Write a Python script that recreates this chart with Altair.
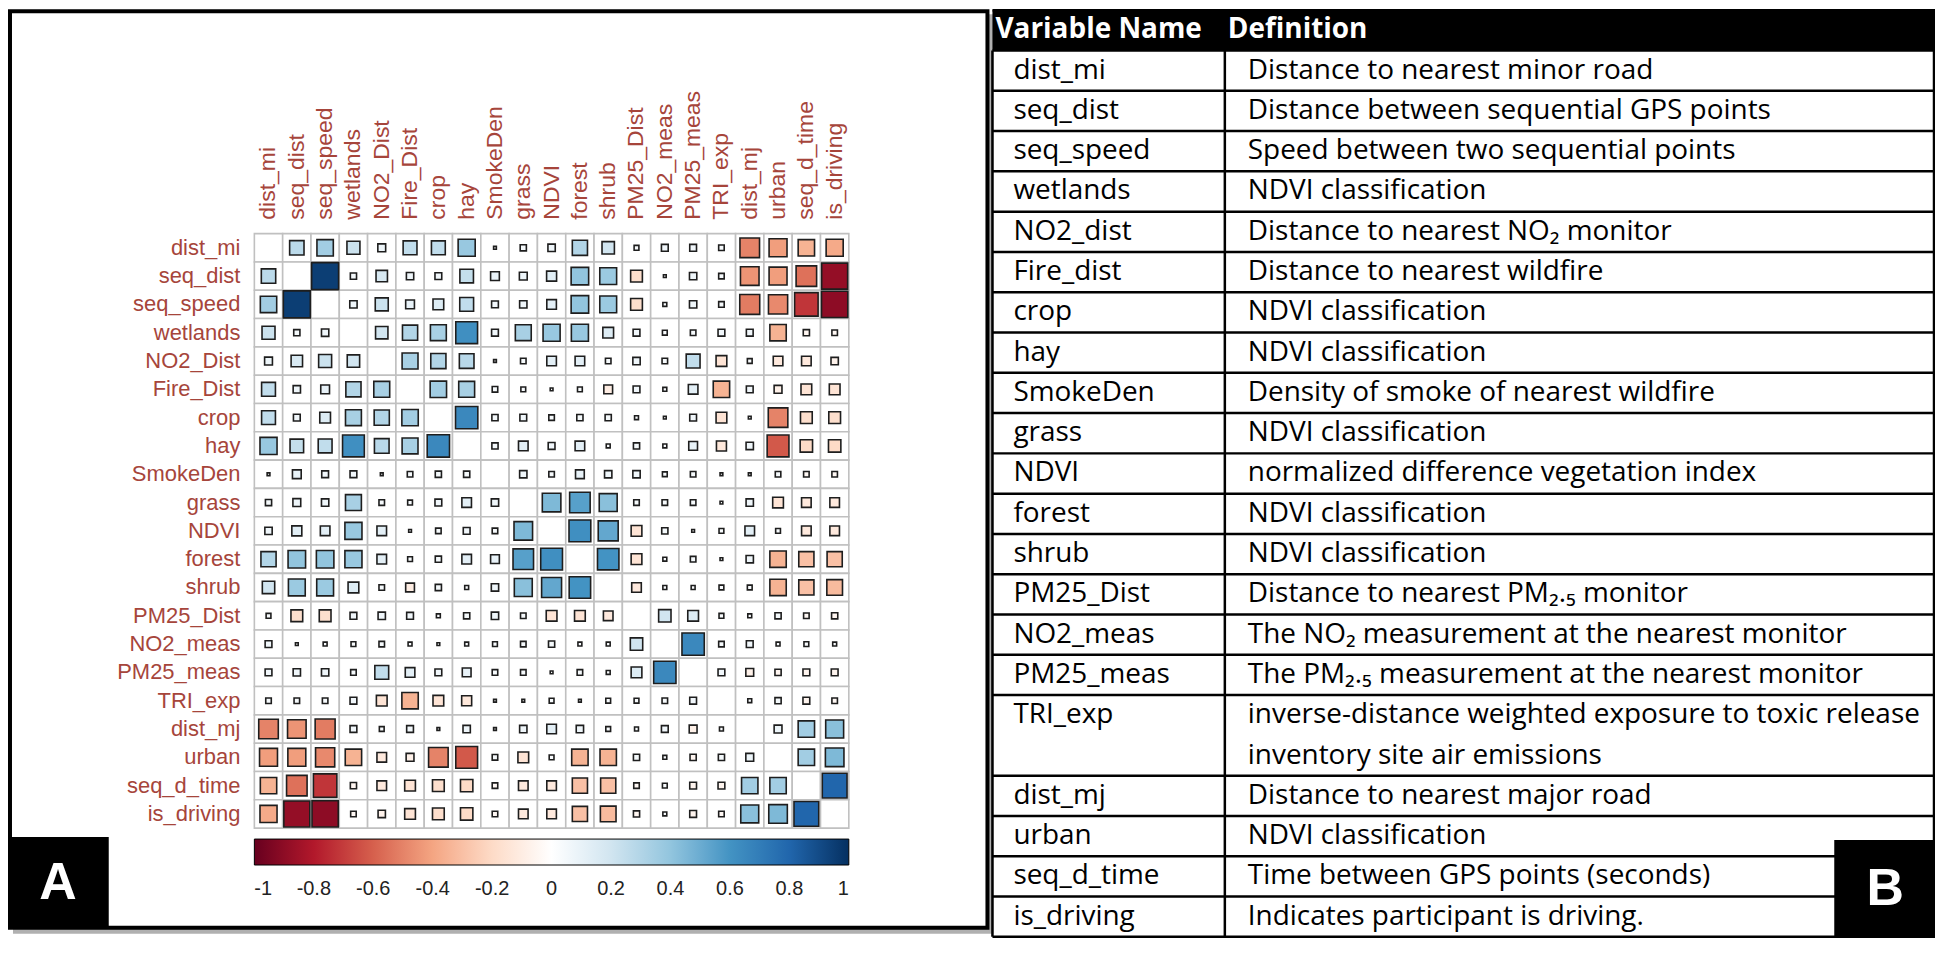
import altair as alt
import numpy as np
import pandas as pd

# ---------------- data ----------------
variables = ["dist_mi", "seq_dist", "seq_speed", "wetlands", "NO2_Dist", "Fire_Dist",
             "crop", "hay", "SmokeDen", "grass", "NDVI", "forest", "shrub", "PM25_Dist",
             "NO2_meas", "PM25_meas", "TRI_exp", "dist_mj", "urban", "seq_d_time", "is_driving"]

# lower triangle of the correlation matrix (row i, columns 0..i-1)
lower_triangle = [
    [],
    [0.27],
    [0.35, 0.95],
    [0.22, 0.05, 0.07],
    [0.08, 0.17, 0.22, 0.20],
    [0.25, 0.07, 0.10, 0.30, 0.33],
    [0.25, 0.06, 0.15, 0.33, 0.30, 0.35],
    [0.38, 0.24, 0.25, 0.62, 0.28, 0.33, 0.65],
    [0.01, 0.10, 0.06, 0.06, 0.01, 0.04, 0.05, 0.05],
    [0.05, 0.08, 0.07, 0.33, 0.04, 0.03, 0.06, 0.12, 0.07],
    [0.07, 0.13, 0.12, 0.38, 0.12, 0.01, 0.04, 0.06, 0.04, 0.45],
    [0.30, 0.40, 0.40, 0.38, 0.12, 0.03, 0.05, 0.12, 0.10, 0.55, 0.62],
    [0.20, 0.37, 0.37, 0.15, 0.04, -0.10, 0.05, 0.02, 0.07, 0.42, 0.52, 0.60],
    [0.03, -0.18, -0.18, 0.06, 0.07, 0.06, 0.02, 0.05, 0.07, 0.04, -0.15, -0.15, -0.12],
    [0.06, 0.01, 0.02, 0.03, 0.04, 0.02, 0.01, 0.02, 0.03, 0.04, 0.05, 0.02, 0.02, 0.20],
    [0.06, 0.07, 0.07, 0.04, 0.25, 0.12, 0.06, 0.10, 0.04, 0.04, 0.01, 0.04, 0.02, 0.15, 0.65],
    [0.04, 0.04, 0.04, 0.06, -0.15, -0.35, -0.15, -0.13, 0.01, 0.01, 0.03, 0.01, 0.03, 0.03, 0.04, 0.06],
    [-0.50, -0.45, -0.52, 0.06, 0.03, 0.06, 0.01, 0.07, 0.01, 0.07, 0.12, 0.07, 0.03, 0.02, 0.06, -0.08, 0.02],
    [-0.42, -0.42, -0.48, -0.35, -0.12, -0.08, -0.50, -0.62, 0.04, -0.15, 0.03, -0.35, -0.35, 0.05, 0.02, -0.05, 0.05, 0.08],
    [-0.35, -0.55, -0.72, -0.05, -0.12, -0.15, -0.18, -0.20, -0.04, -0.12, -0.12, -0.30, -0.30, -0.04, 0.03, -0.06, -0.06, 0.35, 0.35],
    [-0.38, -0.88, -0.90, -0.04, -0.07, -0.15, -0.18, -0.20, -0.04, -0.12, -0.12, -0.30, -0.32, -0.05, 0.02, -0.06, -0.04, 0.42, 0.45, 0.80],
]

palette_stops = [-1, -0.8, -0.6, -0.4, -0.2, 0, 0.2, 0.4, 0.6, 0.8, 1]
corr_palette = ["#67001F", "#B2182B", "#D6604D", "#F4A582", "#FDDBC7", "#FFFFFF",
                "#D1E5F0", "#92C5DE", "#4393C3", "#2166AC", "#053061"]
colorbar_ticks = [-1, -0.8, -0.6, -0.4, -0.2, 0, 0.2, 0.4, 0.6, 0.8, 1]

table_header = ["Variable Name", "Definition"]
table_names = ["dist_mi", "seq_dist", "seq_speed", "wetlands", "NO2_dist", "Fire_dist", "crop",
               "hay", "SmokeDen", "grass", "NDVI", "forest", "shrub", "PM25_Dist", "NO2_meas",
               "PM25_meas", "TRI_exp", "dist_mj", "urban", "seq_d_time", "is_driving"]
table_definitions = [
    ["Distance to nearest minor road"],
    ["Distance between sequential GPS points"],
    ["Speed between two sequential points"],
    ["NDVI classification"],
    ["Distance to nearest NO\u2082 monitor"],
    ["Distance to nearest wildfire"],
    ["NDVI classification"],
    ["NDVI classification"],
    ["Density of smoke of nearest wildfire"],
    ["NDVI classification"],
    ["normalized difference vegetation index"],
    ["NDVI classification"],
    ["NDVI classification"],
    ["Distance to nearest PM\u2082.\u2085 monitor"],
    ["The NO\u2082 measurement at the nearest monitor"],
    ["The PM\u2082.\u2085 measurement at the nearest monitor"],
    ["inverse-distance weighted exposure to toxic release", "inventory site air emissions"],
    ["Distance to nearest major road"],
    ["NDVI classification"],
    ["Time between GPS points (seconds)"],
    ["Indicates participant is driving."],
]
panel_letters = ["A", "B"]

# ---------------- layout (reference pixel coordinates) ----------------
W, H = 1932, 944
OX, OY = 8, 8
MAT_X0, MAT_X1 = 255, 851
MAT_Y0, MAT_Y1 = 233, 829
TAB_X0, TAB_XD, TAB_X1 = 995, 1228, 1940
TAB_Y0, TAB_Y1 = 9, 938
LABEL_COL = "#A6453B"
LABEL_SIZE = 22
TABLE_FONT_SIZE = 28

n = len(variables)
M = np.eye(n)
for i, row in enumerate(lower_triangle):
    for j, v in enumerate(row):
        M[i, j] = v
        M[j, i] = v

cells = pd.DataFrame([
    {"row": variables[i], "col": variables[j], "r": float(M[i, j]),
     "absr": float(abs(M[i, j])), "diag": i == j}
    for i in range(n) for j in range(n)
])
squares = cells[~cells["diag"]].copy()

xs = alt.Scale(domain=variables, range=[MAT_X0 - OX, MAT_X1 - OX], paddingInner=0, paddingOuter=0)
ys = alt.Scale(domain=variables, range=[MAT_Y0 - OY, MAT_Y1 - OY], paddingInner=0, paddingOuter=0)
xpx = alt.Scale(domain=[OX, OX + W], range=[0, W])
ypx = alt.Scale(domain=[OY, OY + H], range=[0, H])

# decoration rectangles (panel frame with shadow, "A" box)
deco = pd.DataFrame([
    dict(x=13, x2=996, y=13, y2=935, fill="#b0b0b0", stroke="#b0b0b0", sw=0),
    dict(x=10, x2=990, y=10, y2=929, fill="#ffffff", stroke="#000000", sw=4),
    dict(x=10, x2=109, y=838, y2=929, fill="#000000", stroke="#000000", sw=0),
])
deco_layer = alt.Chart(deco).mark_rect().encode(
    x=alt.X("x:Q", scale=xpx, axis=None), x2="x2:Q",
    y=alt.Y("y:Q", scale=ypx, axis=None), y2="y2:Q",
    fill=alt.Fill("fill:N", scale=None),
    stroke=alt.Stroke("stroke:N", scale=None),
    strokeWidth=alt.StrokeWidth("sw:Q", scale=None),
)

grid_layer = alt.Chart(cells).mark_rect(fill="white", stroke="#C0C0C0", strokeWidth=1.6).encode(
    x=alt.X("col:N", scale=xs, axis=None),
    y=alt.Y("row:N", scale=ys, axis=None),
)

square_layer = alt.Chart(squares).mark_square(filled=True, opacity=1, stroke="#1E1E1E", strokeWidth=1.6).encode(
    x=alt.X("col:N", scale=xs, axis=None),
    y=alt.Y("row:N", scale=ys, axis=None),
    size=alt.Size("absr:Q", scale=alt.Scale(domain=[0, 1], range=[0, 770]), legend=None),
    color=alt.Color(
        "r:Q",
        scale=alt.Scale(domain=palette_stops, range=corr_palette, interpolate="rgb"),
        legend=alt.Legend(
            orient="none", legendX=MAT_X0 - OX, legendY=840 - OY, direction="horizontal",
            gradientLength=MAT_X1 - MAT_X0, gradientThickness=26,
            gradientStrokeColor="#000000", gradientStrokeWidth=1,
            values=colorbar_ticks, labelExpr="'' + datum.value",
            labelFont="Liberation Sans", labelFontSize=20, labelColor="#222222",
            labelAlign="center", labelOffset=14, labelOverlap=False, title=None,
        ),
    ),
)

var_df = pd.DataFrame({"var": variables})
row_labels = alt.Chart(var_df).mark_text(
    align="right", baseline="middle", font="Liberation Sans", fontSize=LABEL_SIZE, color=LABEL_COL
).encode(
    y=alt.Y("var:N", scale=ys, axis=None),
    x=alt.value(241 - OX),
    text="var:N",
)
col_labels = alt.Chart(var_df).mark_text(
    align="left", baseline="middle", angle=270, font="Liberation Sans", fontSize=LABEL_SIZE + 1, color=LABEL_COL
).encode(
    x=alt.X("var:N", scale=xs, axis=None),
    y=alt.value(219 - OY),
    text="var:N",
)

# ---------------- table ----------------
units_total = 1 + sum(len(d) for d in table_definitions)
tys = alt.Scale(domain=[0, units_total], range=[TAB_Y0 - OY, TAB_Y1 - OY])

name_rows, def_rows, bounds = [], [], [0, 1]
u = 1
for name, lines in zip(table_names, table_definitions):
    name_rows.append({"name": name, "u": u + 0.5})
    for k, line in enumerate(lines):
        def_rows.append({"text": line, "u": u + 0.5 + k})
    u += len(lines)
    bounds.append(u)
names_df = pd.DataFrame(name_rows)
defs_df = pd.DataFrame(def_rows)
bounds_df = pd.DataFrame({"u": bounds})

header_bg = alt.Chart(pd.DataFrame({"u0": [0], "u1": [1]})).mark_rect(color="#000000").encode(
    x=alt.value(TAB_X0 - OX), x2=alt.value(TAB_X1 - OX),
    y=alt.Y("u0:Q", scale=tys, axis=None), y2="u1:Q",
)
header_text = alt.Chart(pd.DataFrame({"h": table_header, "hx": [998, TAB_XD + 3], "u": [0.5, 0.5]})).mark_text(
    align="left", baseline="middle", font="Open Sans", fontSize=TABLE_FONT_SIZE, fontWeight="bold", color="white"
).encode(
    x=alt.X("hx:Q", scale=xpx, axis=None),
    y=alt.Y("u:Q", scale=tys, axis=None),
    text="h:N",
)
hlines = alt.Chart(bounds_df).mark_rule(color="#000000", strokeWidth=2.5).encode(
    x=alt.value(TAB_X0 - OX), x2=alt.value(TAB_X1 - OX),
    y=alt.Y("u:Q", scale=tys, axis=None),
)
vlines = alt.Chart(pd.DataFrame({"vx": [TAB_X0, TAB_XD, TAB_X1 - 1], "u0": [1, 1, 1],
                                 "u1": [units_total] * 3})).mark_rule(color="#000000", strokeWidth=2.5).encode(
    x=alt.X("vx:Q", scale=xpx, axis=None),
    y=alt.Y("u0:Q", scale=tys, axis=None), y2="u1:Q",
)
name_text = alt.Chart(names_df).mark_text(
    align="left", baseline="middle", font="Open Sans", fontSize=TABLE_FONT_SIZE, color="#000000"
).encode(
    x=alt.value(1016 - OX),
    y=alt.Y("u:Q", scale=tys, axis=None),
    text="name:N",
)
def_text = alt.Chart(defs_df).mark_text(
    align="left", baseline="middle", font="Open Sans", fontSize=TABLE_FONT_SIZE, color="#000000"
).encode(
    x=alt.value(1251 - OX),
    y=alt.Y("u:Q", scale=tys, axis=None),
    text="text:N",
)

bbox = pd.DataFrame([dict(x=1839, x2=1940, y=841, y2=938)])
b_box = alt.Chart(bbox).mark_rect(color="#000000").encode(
    x=alt.X("x:Q", scale=xpx, axis=None), x2="x2:Q",
    y=alt.Y("y:Q", scale=ypx, axis=None), y2="y2:Q",
)
letters_df = pd.DataFrame({"t": panel_letters, "lx": [58, 1890], "ly": [884, 890]})
letters = alt.Chart(letters_df).mark_text(
    align="center", baseline="middle", font="Liberation Sans", fontSize=52, fontWeight="bold", color="white"
).encode(
    x=alt.X("lx:Q", scale=xpx, axis=None),
    y=alt.Y("ly:Q", scale=ypx, axis=None),
    text="t:N",
)

chart = alt.layer(
    deco_layer, grid_layer, square_layer, row_labels, col_labels,
    header_bg, hlines, vlines, header_text, name_text, def_text, b_box, letters
).resolve_scale(
    x="independent", y="independent", color="independent", size="independent",
    fill="independent", stroke="independent", strokeWidth="independent"
).properties(
    width=W, height=H, autosize=alt.AutoSizeParams(type="none"), padding=0, background="white"
).configure_view(strokeWidth=0)

chart.save("out.html", embed_options={"renderer": "svg", "actions": False})
